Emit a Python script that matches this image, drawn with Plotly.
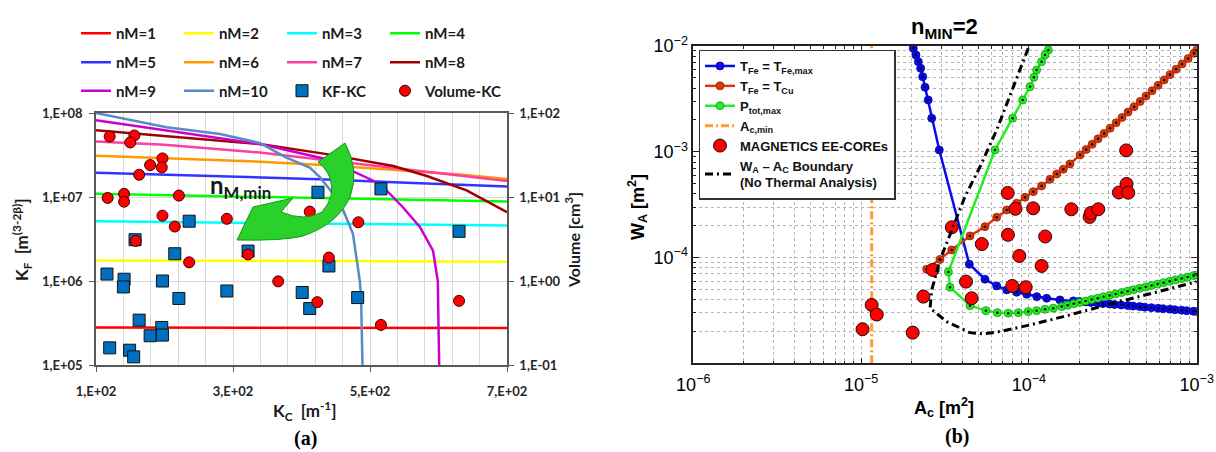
import plotly.graph_objects as go

W, H = 1216, 452

# ======================= (a)  K_F / Volume vs K_C =======================
kc_ticks = [100, 300, 500, 700]
kc_tick_text = ["1,E+02", "3,E+02", "5,E+02", "7,E+02"]
kf_ticks = [1e5, 1e6, 1e7, 1e8]
kf_tick_text = ["1,E+05", "1,E+06", "1,E+07", "1,E+08"]
vol_ticks = [0.1, 1, 10, 100]
vol_tick_text = ["1,E-01", "1,E+00", "1,E+01", "1,E+02"]

kc_nm_a = [100, 200, 339, 437, 534, 631, 700]
kf_nm1 = [2.80e5, 2.80e5, 2.80e5, 2.80e5, 2.79e5, 2.77e5, 2.75e5]
kf_nm2 = [1.76e6, 1.75e6, 1.74e6, 1.73e6, 1.72e6, 1.71e6, 1.70e6]
kf_nm3 = [5.15e6, 5.01e6, 4.90e6, 4.79e6, 4.73e6, 4.62e6, 4.57e6]
kf_nm4 = [1.09e7, 1.05e7, 9.93e6, 9.66e6, 9.33e6, 9.02e6, 8.81e6]
kf_nm5 = [1.95e7, 1.84e7, 1.73e7, 1.62e7, 1.50e7, 1.40e7, 1.33e7]
kf_nm6 = [3.09e7, 2.88e7, 2.63e7, 2.38e7, 2.10e7, 1.85e7, 1.64e7]
kf_nm7 = [4.57e7, 4.20e7, 3.39e7, 2.75e7, 2.24e7, 1.82e7, 1.55e7]
kc_nm8 = [100, 200, 339, 437, 534, 583, 641, 700]
kf_nm8 = [6.25e7, 5.30e7, 4.27e7, 3.24e7, 2.34e7, 1.78e7, 1.20e7, 6.60e6]
kc_nm9 = [100, 200, 339, 437, 475, 515, 548, 573, 592, 599, 600, 601]
kf_nm9 = [8.22e7, 6.30e7, 4.27e7, 2.82e7, 2.04e7, 1.43e7, 7.55e6, 4.37e6,
          2.29e6, 1.00e6, 3.0e5, 1.0e5]
kc_nm10 = [100, 203, 281, 339, 378, 412, 427, 446, 461, 475, 485, 487, 489]
kf_nm10 = [1.0e8, 6.76e7, 5.61e7, 4.40e7, 2.95e7, 2.24e7, 1.71e7, 1.10e7,
           6.92e6, 3.68e6, 1.02e6, 6.46e5, 1.0e5]

kc_cores = [236, 157, 215, 322, 116, 141, 140, 197, 221, 291, 163, 196,
            197, 179, 120, 149, 155, 424, 516, 630, 440, 401, 412, 482]
kf_cores = [5.15e6, 3.1e6, 2.11e6, 2.27e6, 1.21e6, 1.05e6, 8.5e5, 1.0e6,
            6.2e5, 7.6e5, 3.42e5, 2.8e5, 2.27e5, 2.23e5, 1.6e5, 1.5e5,
            1.25e5, 1.14e7, 1.25e7, 3.9e6, 1.51e6, 7.3e5, 4.7e5, 6.35e5]
kc_vol = [120, 156, 150, 197, 179, 196, 163, 117, 141, 141, 221, 197,
          215, 291, 158, 322, 236, 412, 483, 440, 366, 423, 516, 630]
vol_cm3 = [52.5, 54, 44.6, 28.8, 24, 22.5, 18.4, 9.75, 10.9, 8.8, 10.4, 6.0,
           4.45, 5.5, 3.0, 2.07, 1.67, 6.7, 5.0, 1.9, 0.99, 0.56, 0.30, 0.58]

# ======================= (b)  W_A vs A_c (values as log10) =======================
ac_ticks = [1e-6, 1e-5, 1e-4, 1e-3]
ac_tick_text = ["10<sup>−6</sup>", "10<sup>−5</sup>", "10<sup>−4</sup>", "10<sup>−3</sup>"]
wa_ticks = [1e-4, 1e-3, 1e-2]
wa_tick_text = ["10<sup>−4</sup>", "10<sup>−3</sup>", "10<sup>−2</sup>"]

tfemax_log_ac = [-4.689, -4.673, -4.659, -4.645, -4.633, -4.619, -4.600, -4.579,
                 -4.534, -4.355, -4.262, -4.192, -4.132, -4.073, -4.013, -3.953,
                 -3.894, -3.815, -3.735, -3.70, -3.66, -3.63, -3.59, -3.56, -3.52,
                 -3.49, -3.45, -3.41, -3.38, -3.34, -3.31, -3.27, -3.23, -3.20,
                 -3.16, -3.13, -3.09, -3.06, -3.02, -3.00]
tfemax_log_wa = [-2.022, -2.085, -2.148, -2.211, -2.290, -2.390, -2.510, -2.683,
                 -2.983, -4.063, -4.205, -4.268, -4.306, -4.328, -4.347, -4.370,
                 -4.385, -4.401, -4.410, -4.415, -4.420, -4.425, -4.430, -4.435,
                 -4.440, -4.444, -4.449, -4.454, -4.459, -4.464, -4.469, -4.474,
                 -4.479, -4.484, -4.488, -4.493, -4.498, -4.503, -4.508, -4.511]

tfecu_log_ac = [-4.609, -4.530, -4.460, -4.351, -4.262, -4.192, -4.132, -4.073,
                -4.023, -3.974, -3.924, -3.874, -3.834, -3.795, -3.755, -3.695,
                -3.659, -3.623, -3.588, -3.552, -3.516, -3.480, -3.445, -3.409,
                -3.373, -3.337, -3.302, -3.266, -3.230, -3.194, -3.159, -3.123,
                -3.087, -3.051, -3.016, -3.000]
tfecu_log_wa = [-4.111, -4.018, -3.928, -3.796, -3.708, -3.619, -3.550, -3.487,
                -3.430, -3.377, -3.323, -3.260, -3.210, -3.165, -3.115, -3.030,
                -2.979, -2.929, -2.878, -2.827, -2.777, -2.726, -2.676, -2.625,
                -2.574, -2.524, -2.473, -2.423, -2.372, -2.321, -2.271, -2.220,
                -2.170, -2.119, -2.068, -2.040]

ptot_log_ac = [-3.884, -3.904, -3.924, -3.954, -3.970, -3.993, -4.037, -4.097,
               -4.202, -4.480, -4.470, -4.351, -4.256, -4.188, -4.123, -4.063,
               -4.004, -3.954, -3.904, -3.855, -3.805, -3.769, -3.733, -3.698,
               -3.662, -3.626, -3.590, -3.555, -3.519, -3.483, -3.447, -3.412,
               -3.376, -3.340, -3.304, -3.269, -3.233, -3.197, -3.161, -3.126,
               -3.090, -3.054, -3.018, -3.000]
ptot_log_wa = [-2.038, -2.085, -2.148, -2.227, -2.296, -2.385, -2.510, -2.683,
               -2.983, -4.136, -4.281, -4.455, -4.502, -4.521, -4.526, -4.521,
               -4.511, -4.502, -4.489, -4.479, -4.464, -4.451, -4.437, -4.424,
               -4.411, -4.397, -4.384, -4.371, -4.358, -4.344, -4.331, -4.318,
               -4.304, -4.291, -4.278, -4.264, -4.251, -4.238, -4.225, -4.211,
               -4.198, -4.185, -4.171, -4.164]

bound_log_ac = [-4.004, -4.093, -4.192, -4.291, -4.381, -4.451, -4.530, -4.579,
                -4.589, -4.490, -4.351, -4.272, -4.172, -3.993, -3.795, -3.497,
                -3.199, -3.000]
bound_log_wa = [-2.022, -2.385, -2.794, -3.141, -3.424, -3.708, -4.023, -4.306,
                -4.479, -4.606, -4.710, -4.722, -4.700, -4.637, -4.559, -4.432,
                -4.306, -4.228]

ac_min = 1.156e-5
ac_min_wa_span = [1e-5, 1e-2]

ee_ac = [1.02e-5, 1.156e-5, 1.24e-5, 2.03e-5, 2.35e-5, 2.67e-5, 3.47e-5, 4.22e-5,
         4.56e-5, 5.24e-5, 7.48e-5, 7.50e-5, 8.32e-5, 8.77e-5, 7.96e-5, 9.57e-5,
         1.06e-4, 1.25e-4, 1.19e-4, 1.79e-4, 2.30e-4, 2.34e-4, 2.59e-4, 3.44e-4,
         3.82e-4, 3.91e-4, 3.80e-4]
ee_wa = [2.10e-5, 3.56e-5, 2.89e-5, 1.95e-5, 4.27e-5, 7.64e-5, 1.93e-4, 5.92e-5,
         4.12e-5, 1.34e-4, 4.08e-4, 1.64e-4, 2.89e-4, 1.035e-4, 5.39e-5, 5.24e-5,
         2.92e-4, 1.58e-4, 8.33e-5, 2.86e-4, 2.42e-4, 2.64e-4, 2.86e-4, 4.12e-4,
         4.96e-4, 4.10e-4, 1.03e-3]


def exp10(vals):
    return [10.0 ** v for v in vals]


fig = go.Figure()

# ---------- (a) traces ----------
left_series = [
    ("nM=1", kc_nm_a, kf_nm1, "#FF0000", "legend"),
    ("nM=2", kc_nm_a, kf_nm2, "#FFFF00", "legend"),
    ("nM=3", kc_nm_a, kf_nm3, "#00FFFF", "legend"),
    ("nM=4", kc_nm_a, kf_nm4, "#00FF00", "legend"),
    ("nM=5", kc_nm_a, kf_nm5, "#3333FF", "legend2"),
    ("nM=6", kc_nm_a, kf_nm6, "#FF9900", "legend2"),
    ("nM=7", kc_nm_a, kf_nm7, "#FF3F9F", "legend2"),
    ("nM=8", kc_nm8, kf_nm8, "#A00000", "legend2"),
    ("nM=9", kc_nm9, kf_nm9, "#CC00CC", "legend3"),
    ("nM=10", kc_nm10, kf_nm10, "#5A8AC6", "legend3"),
]
for name, xs, ys, col, lg in left_series:
    fig.add_trace(go.Scatter(x=xs, y=ys, mode="lines", name=name,
                             line=dict(color=col, width=2.5),
                             xaxis="x", yaxis="y", legend=lg, hoverinfo="skip"))

fig.add_trace(go.Scatter(x=kc_cores, y=kf_cores, mode="markers", name="KF-KC",
                         marker=dict(symbol="square", size=12, color="#0070C0",
                                     line=dict(color="#111111", width=1)),
                         xaxis="x", yaxis="y", legend="legend3", hoverinfo="skip"))
fig.add_trace(go.Scatter(x=kc_vol, y=vol_cm3, mode="markers", name="Volume-KC",
                         marker=dict(symbol="circle", size=11, color="#FF0000",
                                     line=dict(color="#3a0000", width=1)),
                         legendwidth=90,
                         xaxis="x", yaxis="y2", legend="legend3", hoverinfo="skip"))

# ---------- (b) traces ----------
def dotted_curve(lac, lwa, col, edge, name):
    xs, ys = exp10(lac), exp10(lwa)
    fig.add_trace(go.Scatter(x=xs, y=ys, mode="lines+markers", name=name,
                             line=dict(color=col, width=2.5),
                             marker=dict(size=8, color=col, line=dict(color=edge, width=0.8)),
                             xaxis="x2", yaxis="y3", legend="legend4", hoverinfo="skip"))
    fig.add_trace(go.Scatter(x=xs, y=ys, mode="markers", showlegend=False,
                             marker=dict(size=2.5, color="black"),
                             xaxis="x2", yaxis="y3", legend="legend4", hoverinfo="skip"))


dotted_curve(tfemax_log_ac, tfemax_log_wa, "#0A0AF0", "#0000A0",
             "T<sub>Fe</sub> = T<sub>Fe,max</sub>")
dotted_curve(tfecu_log_ac, tfecu_log_wa, "#D8360E", "#9A2000",
             "T<sub>Fe</sub> = T<sub>Cu</sub>")
dotted_curve(ptot_log_ac, ptot_log_wa, "#22EE22", "#119911",
             "P<sub>tot,max</sub>")

fig.add_trace(go.Scatter(x=[ac_min, ac_min], y=ac_min_wa_span, mode="lines",
                         name="A<sub>c,min</sub>",
                         line=dict(color="#FF9933", width=3, dash="8px,3px,2px,3px"),
                         xaxis="x2", yaxis="y3", legend="legend4", hoverinfo="skip"))
fig.add_trace(go.Scatter(x=ee_ac, y=ee_wa, mode="markers", name="MAGNETICS EE-COREs",
                         marker=dict(size=13, color="#FF0000",
                                     line=dict(color="#111111", width=1)),
                         xaxis="x2", yaxis="y3", legend="legend4", hoverinfo="skip"))
fig.add_trace(go.Scatter(x=exp10(bound_log_ac), y=exp10(bound_log_wa), mode="lines",
                         name="W<sub>A</sub> – A<sub>C</sub> Boundary<br>(No Thermal Analysis)",
                         line=dict(color="black", width=3, dash="8px,4px,2px,4px"),
                         xaxis="x2", yaxis="y3", legend="legend4", hoverinfo="skip"))

# ---------- axes ----------
font_a = dict(family="Lato", size=13, color="#262626", weight="bold")
grid_a = "#D9D9D9"
frame_a = "#595959"
font_b = dict(family="Liberation Sans", size=18, color="black")
grid_b = "#B5B5B5"

minor_kc = list(range(140, 700, 40))
minor_ac = [m * 10.0 ** e for e in (-6, -5, -4) for m in range(2, 10)]
minor_wa = [m * 10.0 ** e for e in (-5, -4, -3) for m in range(2, 10)]

fig.update_layout(
    width=W, height=H, template="none",
    margin=dict(l=0, r=0, t=0, b=0),
    paper_bgcolor="white", plot_bgcolor="white",
    xaxis=dict(domain=[96 / W, 507 / W], anchor="y", range=[100, 700],
               tickmode="array", tickvals=kc_ticks, ticktext=kc_tick_text,
               ticks="outside", ticklen=5, tickcolor=frame_a, tickfont=font_a,
               ticklabelstandoff=9,
               showline=True, linecolor=frame_a, linewidth=1.5, mirror=True,
               showgrid=True, gridcolor=grid_a, gridwidth=1, zeroline=False,
               minor=dict(tickmode="array", tickvals=minor_kc, ticks="",
                          showgrid=True, gridcolor=grid_a, gridwidth=1),
               automargin=False),
    yaxis=dict(domain=[1 - 365 / H, 1 - 113 / H], anchor="x", type="log", range=[5, 8],
               tickmode="array", tickvals=kf_ticks, ticktext=kf_tick_text,
               ticks="outside", ticklen=5, tickcolor=frame_a, tickfont=font_a,
               ticklabelstandoff=4,
               showline=True, linecolor=frame_a, linewidth=1.5, mirror=True,
               showgrid=True, gridcolor=grid_a, gridwidth=1, zeroline=False,
               automargin=False),
    yaxis2=dict(overlaying="y", anchor="x", side="right", type="log", range=[-1, 2],
                tickmode="array", tickvals=vol_ticks, ticktext=vol_tick_text,
                ticks="outside", ticklen=5, tickcolor=frame_a, tickfont=font_a,
                ticklabelstandoff=3,
                showline=True, linecolor=frame_a, linewidth=1.5,
                showgrid=False, zeroline=False, automargin=False),
    xaxis2=dict(domain=[693.3 / W, 1196.7 / W], anchor="y3", type="log", range=[-6, -3],
                tickmode="array", tickvals=ac_ticks, ticktext=ac_tick_text,
                ticks="inside", ticklen=6, tickcolor="#222222", tickfont=font_b,
                ticklabelstandoff=4,
                showline=True, linecolor="#222222", linewidth=1.5, mirror="allticks",
                showgrid=True, gridcolor=grid_b, griddash="dot", gridwidth=1,
                zeroline=False,
                minor=dict(tickmode="array", tickvals=minor_ac, ticks="inside",
                           ticklen=3, tickcolor="#222222", showgrid=True,
                           gridcolor=grid_b, griddash="dot", gridwidth=1),
                automargin=False),
    yaxis3=dict(domain=[1 - 363.3 / H, 1 - 46 / H], anchor="x2", type="log", range=[-5, -2],
                tickmode="array", tickvals=wa_ticks, ticktext=wa_tick_text,
                ticks="inside", ticklen=6, tickcolor="#222222", tickfont=font_b,
                showline=True, linecolor="#222222", linewidth=1.5, mirror="allticks",
                showgrid=True, gridcolor=grid_b, griddash="dot", gridwidth=1,
                zeroline=False,
                minor=dict(tickmode="array", tickvals=minor_wa, ticks="inside",
                           ticklen=3, tickcolor="#222222", showgrid=True,
                           gridcolor=grid_b, griddash="dot", gridwidth=1),
                automargin=False),
)

# ---------- legends ----------
leg_font_a = dict(family="Lato", size=15, color="#1a1a1a", weight="bold")
row_common = dict(orientation="h", xanchor="left", yanchor="middle",
                  entrywidth=58, entrywidthmode="pixels", itemwidth=30,
                  font=leg_font_a, bgcolor="rgba(0,0,0,0)", borderwidth=0,
                  traceorder="normal")
fig.update_layout(
    legend=dict(x=76 / W, y=1 - 33.5 / H, **row_common),
    legend2=dict(x=76 / W, y=1 - 62.5 / H, **row_common),
    legend3=dict(x=76 / W, y=1 - 91 / H, **row_common),
    legend4=dict(x=698.5 / W, y=1 - 49.5 / H, xanchor="left", yanchor="top",
                 orientation="v", itemwidth=30, bgcolor="white",
                 bordercolor="#333333", borderwidth=1.5,
                 font=dict(family="Liberation Sans", size=13, color="#111111",
                           weight="bold"),
                 tracegroupgap=0, traceorder="normal"),
)

# ---------- annotations ----------
def px(x, y):
    return x / W, 1 - y / H


def ann(text, x, y, font, angle=0):
    ax, ay = px(x, y)
    return dict(text=text, x=ax, y=ay, xref="paper", yref="paper", showarrow=False,
                xanchor="center", yanchor="middle", textangle=angle, font=font)


tfa = dict(family="Lato", size=17, color="#1a1a1a", weight="bold")
tfb = dict(family="Liberation Sans", size=18, color="black", weight="bold")
serif = dict(family="Liberation Serif", size=20, color="black", weight="bold")
annotations = [
    ann("K<sub>F</sub>  [m<sup>(3-2β)</sup>]", 22, 240, tfa, -90),
    ann("K<sub>C</sub>  [m<sup>-1</sup>]", 305, 411, tfa),
    ann("Volume [cm<sup>3</sup>]", 572, 240, dict(tfa, size=16), -90),
    ann("n<sub>M,min</sub>", 240, 186, dict(family="Lato", size=24, color="#1a1a1a",
                                             weight="bold")),
    ann("(a)", 305, 438, serif),
    ann("(b)", 957, 436, serif),
    ann("A<sub>c</sub> [m<sup>2</sup>]", 944, 407, tfb),
    ann("W<sub>A</sub> [m<sup>2</sup>]", 637, 207, tfb, -90),
    ann("n<sub>MIN</sub>=2", 944, 28, dict(family="Liberation Sans", size=22,
                                          color="black", weight="bold")),
]
fig.update_layout(annotations=annotations)

# ---------- green curved arrow (decoration) ----------
arrow_cmds = [
    ("M", [(237, 240)]), ("L", [(253, 207)]), ("L", [(293, 198)]), ("L", [(281, 212)]),
    ("Q", [(305, 222), (322, 212)]), ("Q", [(336, 196), (330, 178)]),
    ("Q", [(326, 168), (318, 162)]), ("L", [(345, 143)]),
    ("Q", [(360, 170), (350, 197)]), ("Q", [(338, 224), (303, 236)]),
    ("Q", [(283, 241), (237, 240)]),
]
path = ""
for cmd, pts in arrow_cmds:
    path += cmd + " ".join(f"{p[0] / W:.5f},{1 - p[1] / H:.5f}" for p in pts)
path += "Z"
fig.add_shape(type="path", path=path, xref="paper", yref="paper",
              fillcolor="#2BD12B", line=dict(color="#139613", width=1), layer="above")

fig.write_html(
    "out.html",
    config={"displayModeBar": False},
    post_script="document.body.style.margin='0px';document.body.style.padding='0px';"
                "document.body.style.overflow='hidden';",
)
